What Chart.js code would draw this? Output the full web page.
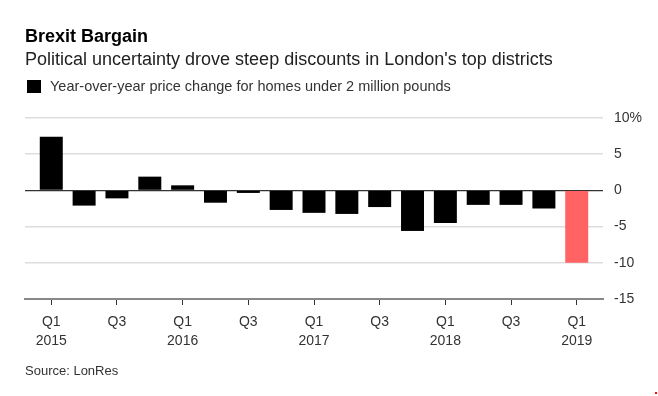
<!DOCTYPE html>
<html>
<head>
<meta charset="utf-8">
<script src="https://cdn.jsdelivr.net/npm/chart.js@4"></script>
<style>
  body { margin: 0; background: #fff; font-family: "Liberation Sans", Arial, sans-serif; }
  #wrap { position: relative; width: 658px; height: 396px; overflow: hidden; }
  canvas { position: absolute; left: 0; top: 0; }
  .txt { position: absolute; left: 25px; white-space: nowrap; }
  #title { top: 26px; font-size: 18px; font-weight: bold; color: #000; }
  #subtitle { top: 49px; font-size: 18px; color: #222; }
  #legend { top: 78px; font-size: 14.5px; color: #333; }
  #legend span { display: inline-block; width: 14px; height: 13px; background: #000; vertical-align: -2px; margin: 0 9px 0 2px; }
  #source { top: 363px; font-size: 13px; color: #333; }
  #dot { position: absolute; left: 655px; top: 392px; width: 2px; height: 2px; background: #f00; }
</style>
</head>
<body>
<div id="wrap">
  <canvas id="myChart" width="658" height="396"></canvas>
  <div class="txt" id="title">Brexit Bargain</div>
  <div class="txt" id="subtitle">Political uncertainty drove steep discounts in London's top districts</div>
  <div class="txt" id="legend"><span></span>Year-over-year price change for homes under 2 million pounds</div>
  <div class="txt" id="source">Source: LonRes</div>
  <div id="dot"></div>
</div>
<script>
// quarters from Q1 2015 to Q1 2019
const quarters = ["Q1 2015","Q2 2015","Q3 2015","Q4 2015","Q1 2016","Q2 2016","Q3 2016","Q4 2016",
  "Q1 2017","Q2 2017","Q3 2017","Q4 2017","Q1 2018","Q2 2018","Q3 2018","Q4 2018","Q1 2019"];
const priceChange = [7.4, -2.1, -1.1, 1.9, 0.7, -1.7, -0.35, -2.7, -3.1, -3.25, -2.3, -5.6, -4.5, -2.0, -2.0, -2.5, -10.0];
const xTickLabels = [["Q1","2015"],"Q3",["Q1","2016"],"Q3",["Q1","2017"],"Q3",["Q1","2018"],"Q3",["Q1","2019"]];
const yTicks = [10, 5, 0, -5, -10, -15];

const barData = priceChange.map((v, i) => ({ x: i, y: v }));
const barColors = priceChange.map((v, i) => i === priceChange.length - 1 ? "#ff6363" : "#000");

const config = {
  type: "bar",
  data: {
    labels: quarters,
    datasets: [{
      label: "Year-over-year price change for homes under 2 million pounds",
      data: barData,
      backgroundColor: barColors,
      borderWidth: 0,
      categoryPercentage: 1,
      barPercentage: 0.7
    }]
  },
  options: {
    responsive: false,
    animation: false,
    layout: { padding: { left: 25, top: 118, right: 0, bottom: 0 } },
    plugins: { legend: { display: false }, tooltip: { enabled: false } },
    scales: {
      x: {
        type: "linear",
        min: -0.8,
        max: 16.8,
        offset: false,
        afterBuildTicks: (scale) => {
          scale.ticks = xTickLabels.map((t, i) => ({ value: i * 2 }));
        },
        afterFit: (scale) => { scale.height = 97; },
        grid: { offset: false, drawOnChartArea: false, drawTicks: true, tickLength: 6, color: "#333" },
        border: { display: true, color: "#888", width: 2 },
        ticks: {
          color: "#333",
          padding: 8,
          maxRotation: 0,
          autoSkip: false,
          font: { family: "Liberation Sans", size: 14, lineHeight: 1.35 },
          callback: (value) => xTickLabels[value / 2]
        }
      },
      y: {
        position: "right",
        min: -15,
        max: 10,
        afterBuildTicks: (scale) => {
          scale.ticks = yTicks.map((v) => ({ value: v }));
        },
        afterFit: (scale) => { scale.width = 55; },
        border: { display: false },
        grid: {
          drawTicks: false,
          color: (ctx) => ctx.tick.value === 0 ? "#333" : (ctx.tick.value === -15 ? "rgba(0,0,0,0)" : "#ddd"),
          lineWidth: (ctx) => ctx.tick.value === 0 ? 1.2 : 1.5
        },
        ticks: {
          color: "#333",
          padding: 11,
          font: { family: "Liberation Sans", size: 14 },
          callback: (value) => value === 10 ? "10%" : value
        }
      }
    }
  }
};

const ctx = document.getElementById("myChart").getContext("2d");
const myChart = new Chart(ctx, config);
</script>
</body>
</html>
